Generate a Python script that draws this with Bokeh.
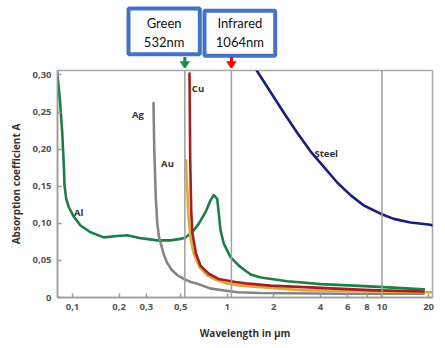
import math
from bokeh.plotting import figure
from bokeh.models import Range1d, FixedTicker, Span
from bokeh.layouts import column
from bokeh.embed import file_html
from bokeh.resources import INLINE
from bokeh.core.properties import value

# ---------------- data ----------------
al_x = [0.0797, 0.0828, 0.0858, 0.0879, 0.0888, 0.0911, 0.0946, 0.1019, 0.1126, 0.1307, 0.1593,
        0.1945, 0.2257, 0.2750, 0.3526, 0.4298, 0.4987, 0.5373, 0.5936, 0.6549, 0.7236, 0.7795,
        0.8186, 0.8612, 0.8819, 0.9045, 0.9499, 1.0496, 1.1878, 1.3122, 1.418, 1.646, 2.448,
        4.018, 6.595, 10.30, 18.67]
al_y = [0.304, 0.268, 0.223, 0.178, 0.151, 0.133, 0.122, 0.109, 0.097, 0.088, 0.081,
        0.083, 0.084, 0.080, 0.077, 0.077, 0.079, 0.081, 0.088, 0.0996, 0.115, 0.131,
        0.138, 0.133, 0.113, 0.0905, 0.0726, 0.0545, 0.043, 0.036, 0.031, 0.027, 0.022,
        0.018, 0.016, 0.014, 0.011]

ag_x = [0.3337, 0.3377, 0.3452, 0.3530, 0.3626, 0.3719, 0.3889, 0.4109, 0.4381, 0.4770, 0.5236,
        0.5808, 0.6419, 0.7823, 1.164, 1.646, 5.41, 18.59]
ag_y = [0.262, 0.199, 0.135, 0.100, 0.081, 0.073, 0.058, 0.046, 0.037, 0.030, 0.025,
        0.021, 0.0185, 0.012, 0.007, 0.006, 0.005, 0.005]

cu_x = [0.5703, 0.5763, 0.5832, 0.5858, 0.5964, 0.6283, 0.6718, 0.7025, 0.7600, 0.8780, 1.1306,
        1.3122, 1.903, 4.005, 8.43, 18.55]
cu_y = [0.302, 0.185, 0.131, 0.113, 0.086, 0.059, 0.043, 0.039, 0.032, 0.025, 0.021,
        0.019, 0.016, 0.013, 0.010, 0.008]

au_x = [0.5430, 0.5470, 0.5536, 0.5601, 0.5703, 0.5790, 0.5943, 0.6078, 0.6618, 0.7421, 0.8396,
        0.9993, 1.218, 1.903, 2.974, 9.779, 21.2]
au_y = [0.185, 0.158, 0.140, 0.113, 0.095, 0.081, 0.068, 0.059, 0.041, 0.030, 0.024,
        0.019, 0.016, 0.013, 0.010, 0.008, 0.007]

steel_x = [1.50, 1.562, 1.903, 2.321, 2.832, 3.451, 4.207, 5.134, 6.259, 7.628, 9.779, 11.92,
           15.28, 20.58, 21.2]
steel_y = [0.312, 0.305, 0.277, 0.249, 0.222, 0.197, 0.176, 0.155, 0.138, 0.124, 0.113, 0.106,
           0.101, 0.098, 0.097]

series_names = ["Al", "Ag", "Steel", "Au", "Cu"]
series_colors = ["#1f7d4a", "#858585", "#1c1f7a", "#e0a83c", "#a3201f"]

label_names = ["Al", "Ag", "Au", "Cu", "Steel"]
label_x = [0.1098, 0.2651, 0.4111, 0.6471, 4.359]
label_y = [0.114, 0.247, 0.180, 0.282, 0.1936]

x_ticks = [0.1, 0.2, 0.3, 0.5, 1, 2, 4, 6, 8, 10, 20]
x_tick_labels = ["0,1", "0,2", "0,3", "0,5", "1", "2", "4", "6", "8", "10", "20"]
y_ticks = [0, 0.05, 0.10, 0.15, 0.20, 0.25, 0.30]
y_tick_labels = ["0", "0,05", "0,10", "0,15", "0,20", "0,25", "0,30"]

laser_wl = [0.532, 1.064]
laser_line1 = ["Green", "Infrared"]
laser_line2 = ["532nm", "1064nm"]
laser_colors = ["#1e8c45", "#ff0000"]
extra_lines = [10]

# ---------------- layout constants ----------------
W = 445
TOP_H = 68
MAIN_H = 280
BL, BR, BT, BB = 57, 13, 2, 51
FONT = "Open Sans"

x0, x1 = 0.080, 21.2
p = figure(width=W, height=MAIN_H, x_axis_type="log",
           x_range=Range1d(x0, x1), y_range=Range1d(0, 0.306),
           min_border_left=BL, min_border_right=BR, min_border_top=BT, min_border_bottom=BB,
           output_backend="svg", toolbar_location=None)
p.xgrid.visible = False
p.ygrid.visible = False
p.outline_line_color = "#a8a8a8"
p.outline_line_width = 1.5

for w in laser_wl + extra_lines:
    p.add_layout(Span(location=w, dimension="height", line_color="#a0a0a0", line_width=1.5))

curves = [(al_x, al_y), (ag_x, ag_y), (steel_x, steel_y), (au_x, au_y), (cu_x, cu_y)]
for (xs, ys), c in zip(curves, series_colors):
    p.line(xs, ys, line_color=c, line_width=2.6, line_join="round", line_cap="round")

p.text(x=label_x, y=label_y, text=label_names, text_font=value(FONT), text_font_style="bold",
       text_font_size="9.5px", text_color="#333333", text_align="center", text_baseline="middle")

for ax in (p.xaxis, p.yaxis):
    ax.axis_line_color = "#9a9a9a"
    ax.axis_line_width = 1.5
    ax.major_tick_line_color = "#9a9a9a"
    ax.major_tick_line_width = 1.5
    ax.major_tick_in = 4
    ax.major_tick_out = 0
    ax.minor_tick_line_color = None
    ax.major_label_text_font = FONT
    ax.major_label_text_font_style = "bold"
    ax.major_label_text_font_size = "9.5px"
    ax.major_label_text_color = "#555555"
    ax.major_label_standoff = 6
    ax.axis_label_text_font = FONT
    ax.axis_label_text_font_style = "bold"
    ax.axis_label_text_font_size = "10px"
    ax.axis_label_text_color = "#333333"

p.xaxis.ticker = FixedTicker(ticks=x_ticks)
p.xaxis.major_label_overrides = {t: l for t, l in zip(x_ticks, x_tick_labels)}
p.xaxis.axis_label = "Wavelength in µm"
p.xaxis.axis_label_standoff = 13
p.yaxis.ticker = FixedTicker(ticks=y_ticks)
p.yaxis.major_label_overrides = {t: l for t, l in zip(y_ticks, y_tick_labels)}
p.yaxis.axis_label = "Absorption coefficient A"
p.yaxis.axis_label_standoff = 6

# ---------------- top strip with the laser boxes and arrows ----------------
# its frame is aligned with the main frame, so x is given in canvas pixels from BL to W-BR
pt = figure(width=W, height=TOP_H, x_range=Range1d(BL, W - BR), y_range=Range1d(TOP_H, 0),
            min_border_left=BL, min_border_right=BR, min_border_top=0, min_border_bottom=0,
            output_backend="svg", toolbar_location=None,
            x_axis_location=None, y_axis_location=None)
pt.xgrid.visible = False
pt.ygrid.visible = False
pt.outline_line_color = None

frame_w = W - BL - BR
def to_px(w):
    return BL + (math.log10(w) - math.log10(x0)) / (math.log10(x1) - math.log10(x0)) * frame_w

box_left = [128, 204]
box_right = [199.3, 274.7]
box_top = [8, 10.3]
box_bottom = [53.7, 55.3]
pt.quad(left=box_left, right=box_right, top=box_top, bottom=box_bottom,
        fill_color="white", line_color="#4472C4", line_width=4)
cx = [(a + b) / 2 for a, b in zip(box_left, box_right)]
pt.text(x=cx + cx, y=[22.7, 22.7, 41.7, 41.7], text=laser_line1 + laser_line2,
        text_font=value("Lato"), text_font_size="13px", text_color="#111111",
        text_align="center", text_baseline="middle")

for w, c in zip(laser_wl, laser_colors):
    ax_ = to_px(w)
    pt.segment(x0=[ax_], y0=[56.5], x1=[ax_], y1=[62], line_color=c, line_width=3)
    pt.patch(x=[ax_ - 4.8, ax_ + 4.8, ax_], y=[61, 61, 68.5], fill_color=c, line_color=c, line_width=0.5)

layout = column(pt, p, spacing=0)
open("out.html", "w").write(file_html(layout, INLINE))
